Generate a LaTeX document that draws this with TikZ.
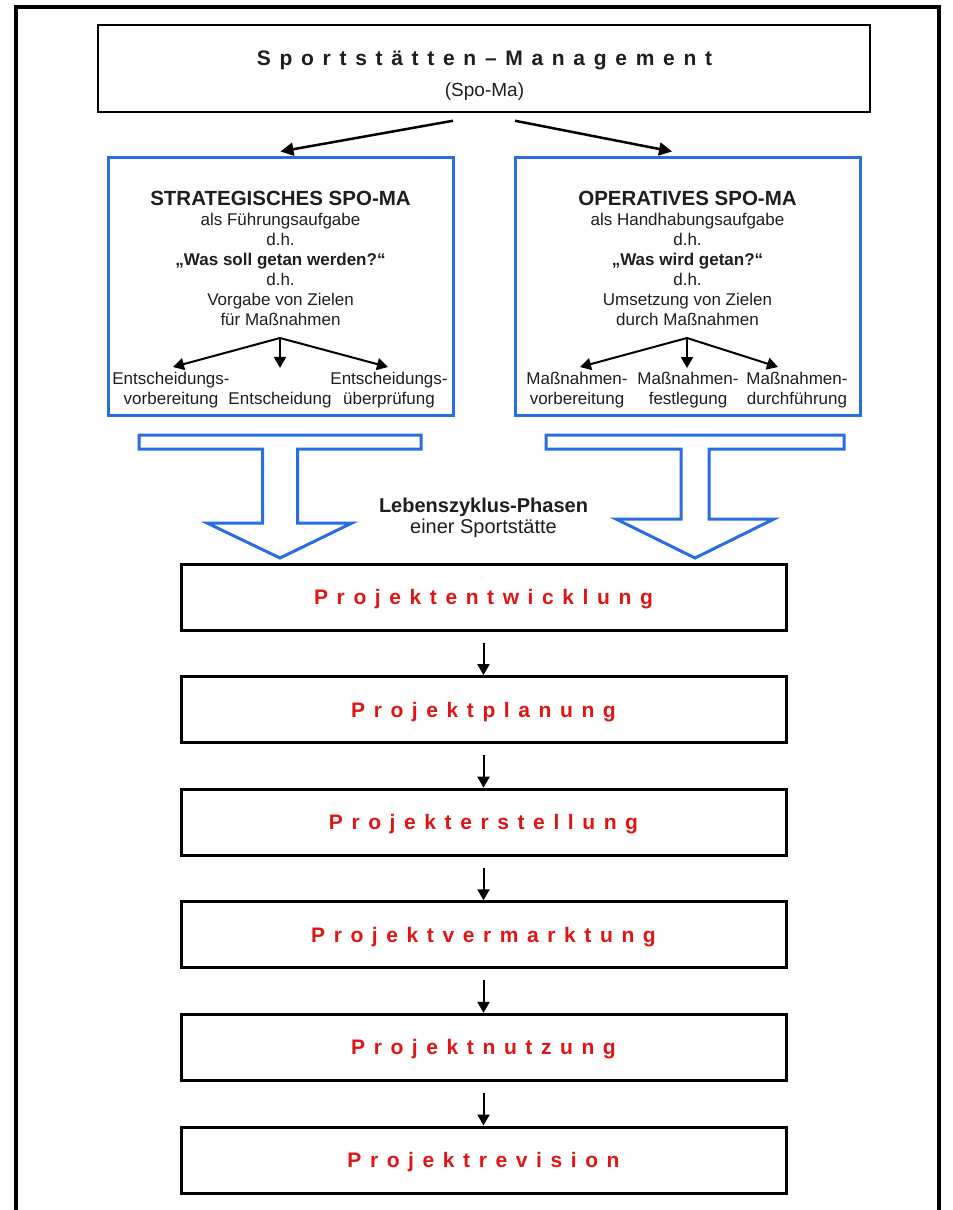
\documentclass[tikz,border=0pt]{standalone}
\usepackage{fontspec}
\setmainfont{Liberation Sans}
\usetikzlibrary{arrows.meta,calc}
\definecolor{sblue}{RGB}{40,110,225}
\definecolor{sred}{RGB}{225,20,20}
\definecolor{stext}{RGB}{30,30,30}
\ExplSyntaxOn
\NewDocumentCommand\spacedtext{mm}{\tl_map_inline:nn{#2}{##1\hspace{#1}}\unskip}
\ExplSyntaxOff
\begin{document}
\begin{tikzpicture}[x=1pt,y=-1pt,
  frameline/.style={line width=4pt},
  topbox/.style={draw, line width=2.5pt, minimum width=772pt, minimum height=87pt, inner sep=0pt},
  bluebox/.style={draw=sblue, line width=3pt, minimum width=345pt, minimum height=258pt, inner sep=0pt},
  phase/.style={draw, line width=3pt, minimum width=605pt, minimum height=66pt, inner sep=0pt,
     text=sred, font=\fontsize{21}{25}\selectfont\bfseries, text height=15pt, text depth=0pt},
  body/.style={align=center, text=stext, font=\fontsize{17}{20}\selectfont, inner sep=0pt},
  headtxt/.style={text=stext, font=\fontsize{20.5}{24}\selectfont\bfseries, inner sep=0pt, anchor=base},
  bigarr/.style={-{Triangle[length=13pt,width=13pt]}, line width=2.5pt},
  smallarr/.style={-{Triangle[length=11pt,width=12pt]}, line width=2pt},
  hollow/.style={draw=sblue, line width=3pt, line join=miter},
]
\useasboundingbox (0,0) rectangle (953,1210);
\fill[white] (0,0) rectangle (953,1210);
% outer frame (open at the bottom)
\draw[frameline] (16,1215) -- (16,7) -- (939,7) -- (939,1215);

% top box
\node[topbox] (top) at (484,68.5) {};
\node[anchor=base, inner sep=0pt, text=stext, font=\fontsize{21}{25}\selectfont\bfseries] (title) at (484.5,65)
  {\spacedtext{8.7pt}{Sportstätten–Management}};
\node[anchor=base, inner sep=0pt, text=stext, font=\fontsize{19}{22}\selectfont] (subtitle) at (484.5,96) {(Spo-Ma)};

% blue boxes
\node[bluebox] (strat) at (280.5,286) {};
\node[bluebox] (oper) at (687.5,286) {};

\draw[bigarr] ([xshift=-31pt,yshift=-7.5pt]top.south) -- ([yshift=4pt]strat.north);
\draw[bigarr] ([xshift=31pt,yshift=-7.5pt]top.south) -- ([xshift=-15.5pt,yshift=4pt]oper.north);

% left box texts
\node[headtxt] (sh) at (280.5,205) {STRATEGISCHES SPO-MA};
\node[body, anchor=north] (sb) at (280.5,213)
  {als Führungsaufgabe\\d.h.\\{\bfseries „Was soll getan werden?“}\\d.h.\\Vorgabe von Zielen\\für Maßnahmen};
\coordinate (sapex) at (280,338);
\node[body, anchor=north] (sl) at (171,372) {Entscheidungs-\\vorbereitung};
\node[body, anchor=base] (sm) at (280,404.4) {Entscheidung};
\node[body, anchor=north] (sr) at (389,372) {Entscheidungs-\\überprüfung};
\draw[smallarr] (sapex) -- ([xshift=2pt,yshift=5pt]sl.north);
\draw[smallarr] (sapex) -- ([yshift=24pt]sm.north);
\draw[smallarr] (sapex) -- ([xshift=-1pt,yshift=5pt]sr.north);

% right box texts
\node[headtxt] (oh) at (687.5,205) {OPERATIVES SPO-MA};
\node[body, anchor=north] (ob) at (687.5,213)
  {als Handhabungsaufgabe\\d.h.\\{\bfseries „Was wird getan?“}\\d.h.\\Umsetzung von Zielen\\durch Maßnahmen};
\coordinate (oapex) at (687,338);
\node[body, anchor=north] (ol) at (577,372) {Maßnahmen-\\vorbereitung};
\node[body, anchor=north] (om) at (688,372) {Maßnahmen-\\festlegung};
\node[body, anchor=north] (or) at (797,372) {Maßnahmen-\\durchführung};
\draw[smallarr] (oapex) -- ([xshift=3pt,yshift=5pt]ol.north);
\draw[smallarr] (oapex) -- ([xshift=-1pt,yshift=4pt]om.north);
\draw[smallarr] (oapex) -- ([xshift=-19pt,yshift=5pt]or.north);

% hollow blue arrows
\draw[hollow] (139,435) -- (421,435) -- (421,449) -- (297.5,449) -- (297.5,523) -- (352,523)
  -- (280,558) -- (207,523) -- (262.5,523) -- (262.5,449) -- (139,449) -- cycle;
\draw[hollow] (546,435) -- (844,435) -- (844,449) -- (709,449) -- (709,519) -- (774,519)
  -- (695,558) -- (616,519) -- (681,519) -- (681,449) -- (546,449) -- cycle;

\node[align=center, anchor=north, inner sep=0pt, text=stext, font=\fontsize{20}{21}\selectfont] (lz) at (483.5,497.5)
  {{\bfseries Lebenszyklus-Phasen}\\einer Sportstätte};

% phases
\node[phase] (p1) at (483.5,597) {\spacedtext{8.6pt}{Projektentwicklung}};
\node[phase] (p2) at (483.5,709.6) {\spacedtext{8.6pt}{Projektplanung}};
\node[phase] (p3) at (483.5,822.2) {\spacedtext{8.6pt}{Projekterstellung}};
\node[phase] (p4) at (483.5,934.8) {\spacedtext{8.6pt}{Projektvermarktung}};
\node[phase] (p5) at (483.5,1047.4) {\spacedtext{8.6pt}{Projektnutzung}};
\node[phase] (p6) at (483.5,1160) {\spacedtext{8.6pt}{Projektrevision}};
\foreach \a/\b in {p1/p2,p2/p3,p3/p4,p4/p5,p5/p6}
  \draw[smallarr] ([yshift=-11pt]\a.south) -- (\b.north);
\end{tikzpicture}
\end{document}
